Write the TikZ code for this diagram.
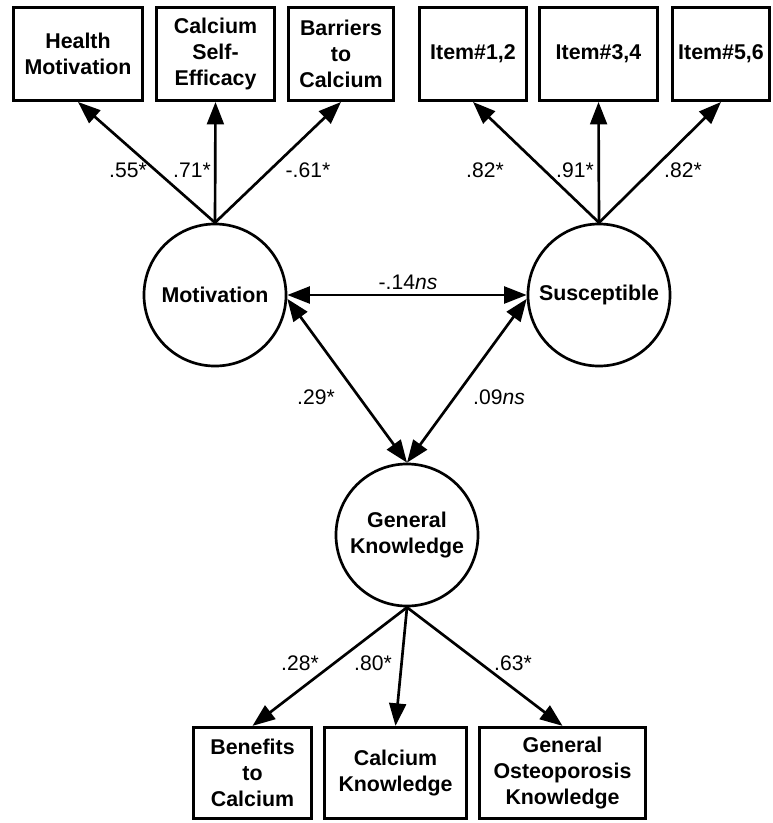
\documentclass[tikz,border=0pt]{standalone}
\usepackage{fontspec}
\setmainfont{Liberation Sans}
\usepackage{tikz}
\usetikzlibrary{shapes.geometric, arrows.meta, positioning}

\begin{document}
\begin{tikzpicture}[
    x=0.025cm, y=-0.025cm,
    indicator/.style={rectangle, draw, line width=2.2pt, minimum height=2.32cm, align=center, inner sep=2pt, font=\fontsize{15.2}{18.5}\selectfont\bfseries},
    latent/.style={circle, draw, line width=1.9pt, minimum size=3.55cm, inner sep=0pt, align=center, font=\fontsize{15.2}{18.5}\selectfont\bfseries},
    coef/.style={inner sep=1pt, font=\fontsize{15}{18.5}\selectfont},
    load/.style={line width=1.9pt, -{Triangle[length=16pt,width=12pt]}},
    cov/.style={line width=1.9pt, {Triangle[length=16pt,width=12pt]}-{Triangle[length=16pt,width=12pt]}}
]
    \useasboundingbox (0,0) rectangle (772,823);

    \node[indicator, minimum width=3.22cm] (healthmot) at (78,54) {Health\\Motivation};
    \node[indicator, minimum width=2.95cm] (selfeff) at (215.5,54) {Calcium\\Self-\\Efficacy};
    \node[indicator, minimum width=2.62cm] (barriers) at (341,54) {Barriers\\to\\Calcium};
    \node[indicator, minimum width=2.68cm] (item12) at (473,54) {Item\#1,2};
    \node[indicator, minimum width=2.95cm] (item34) at (598.5,54) {Item\#3,4};
    \node[indicator, minimum width=2.42cm] (item56) at (721,54) {Item\#5,6};

    \node[latent] (motivation) at (215,295) {Motivation};
    \node[latent] (susceptible) at (599,295) {Susceptible};
    \node[latent] (genknow) at (407,535) {General\\Knowledge};

    \node[indicator, minimum width=2.95cm, minimum height=2.28cm] (benefits) at (252.5,773) {Benefits\\to\\Calcium};
    \node[indicator, minimum width=3.55cm, minimum height=2.28cm] (calcknow) at (395.5,773) {Calcium\\Knowledge};
    \node[indicator, minimum width=4.15cm, minimum height=2.28cm] (osteoknow) at (562.5,773) {General\\Osteoporosis\\Knowledge};

    \draw[load] (motivation.north) -- (healthmot.south);
    \draw[load] (motivation.north) -- (selfeff.south);
    \draw[load] (motivation.north) -- (barriers.south);
    \draw[load] (susceptible.north) -- (item12.south);
    \draw[load] (susceptible.north) -- (item34.south);
    \draw[load] (susceptible.north) -- (item56.south);
    \draw[load] (genknow.south) -- (benefits.north);
    \draw[load] (genknow.south) -- (calcknow.north);
    \draw[load] (genknow.south) -- (osteoknow.north);

    \draw[cov] (motivation.east) -- (susceptible.west);
    \draw[cov] (motivation.-3) -- (genknow.north);
    \draw[cov] (susceptible.183) -- (genknow.north);

    \node[coef] (lhm) at (128,170) {.55*};
    \node[coef] (lse) at (192,170) {.71*};
    \node[coef] (lbc) at (308,170) {-.61*};
    \node[coef] (li12) at (485,170) {.82*};
    \node[coef] (li34) at (575,170) {.91*};
    \node[coef] (li56) at (683,170) {.82*};
    \node[coef] (lms) at (408,282) {-.14\textit{ns}};
    \node[coef] (lmg) at (316,397) {.29*};
    \node[coef] (lsg) at (499,397) {.09\textit{ns}};
    \node[coef] (lbn) at (300,663) {.28*};
    \node[coef] (lck) at (373,663) {.80*};
    \node[coef] (lok) at (513,663) {.63*};
\end{tikzpicture}
\end{document}
